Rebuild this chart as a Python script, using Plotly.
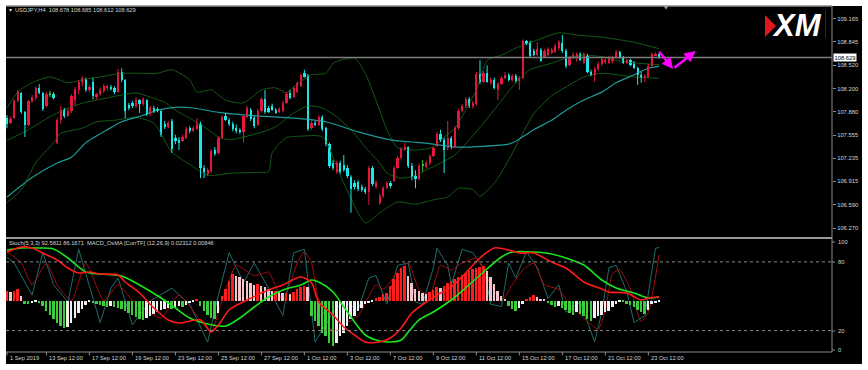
import plotly.graph_objects as go

# ---------------- DATA ----------------
bar_open = [
 107.79,107.72,107.79,108.03,108.14,107.87,107.70,108.03,108.07,108.21,
 108.14,107.96,108.12,108.12,107.45,107.76,107.90,107.82,107.89,108.04,
 108.18,108.29,108.32,108.18,108.29,108.08,108.12,108.17,108.21,108.22,
 108.21,108.15,108.43,108.32,107.97,108.00,107.96,108.04,107.99,108.04,
 107.85,107.93,107.92,107.89,107.71,107.67,107.75,107.52,107.49,107.47,
 107.52,107.65,107.61,107.64,107.71,107.10,107.02,107.06,107.35,107.31,
 107.52,107.82,107.76,107.71,107.65,107.63,107.60,107.81,107.90,107.79,
 107.70,107.89,108.05,107.93,107.96,107.90,107.87,107.89,108.00,108.14,
 108.08,108.15,108.23,108.41,108.37,107.65,107.72,107.70,107.81,107.65,
 107.43,107.17,107.05,107.17,107.14,107.10,106.98,106.89,106.91,106.84,
 106.81,106.77,107.10,106.84,106.62,106.71,106.82,106.89,106.92,107.10,
 107.24,107.35,107.39,107.13,106.99,106.95,107.13,107.11,107.17,107.27,
 107.40,107.57,107.49,107.38,107.52,107.39,107.65,107.89,107.96,108.05,
 107.96,107.99,108.40,108.29,108.41,108.28,108.32,108.18,108.26,108.35,
 108.39,108.32,108.37,108.30,108.35,108.86,108.83,108.72,108.66,108.73,
 108.64,108.66,108.69,108.70,108.76,108.83,108.72,108.52,108.62,108.62,
 108.68,108.55,108.65,108.43,108.39,108.47,108.54,108.57,108.55,108.58,
 108.62,108.70,108.62,108.55,108.59,108.54,108.48,108.39,108.35,108.36,
 108.51,108.66,108.678]
bar_high = [
 107.83,107.81,108.05,108.18,108.15,107.89,108.04,108.11,108.23,108.26,
 108.15,108.15,108.17,108.15,107.79,107.96,107.93,107.92,108.12,108.22,
 108.32,108.37,108.35,108.25,108.35,108.14,108.21,108.26,108.25,108.25,
 108.23,108.47,108.48,108.33,108.00,108.03,108.08,108.05,108.08,108.05,
 107.96,107.96,107.94,107.90,107.75,107.75,107.78,107.56,107.53,107.56,
 107.67,107.68,107.68,107.79,107.74,107.14,107.10,107.36,107.39,107.54,
 107.83,107.86,107.79,107.74,107.70,107.65,107.85,107.96,107.93,107.82,
 107.92,108.08,108.18,107.96,107.99,107.93,107.94,108.03,108.15,108.18,
 108.23,108.30,108.41,108.46,108.40,107.75,107.75,107.83,107.83,107.67,
 107.45,107.21,107.20,107.20,107.28,107.14,107.00,106.93,106.93,106.87,
 106.84,107.13,107.13,106.93,106.75,106.85,106.92,106.92,107.13,107.27,
 107.39,107.45,107.40,107.17,107.07,107.16,107.21,107.20,107.29,107.40,
 107.60,107.63,107.52,107.75,107.54,107.68,107.92,107.99,108.08,108.08,
 108.03,108.43,108.59,108.44,108.52,108.35,108.35,108.29,108.37,108.43,
 108.41,108.40,108.40,108.37,108.88,108.87,108.86,108.75,108.84,108.76,
 108.75,108.77,108.76,108.82,108.87,108.94,108.75,108.65,108.70,108.70,
 108.70,108.70,108.68,108.46,108.50,108.57,108.64,108.62,108.65,108.65,
 108.73,108.72,108.65,108.61,108.61,108.58,108.50,108.43,108.40,108.54,
 108.70,108.70,108.685]
bar_low = [
 107.65,107.71,107.78,108.01,107.85,107.53,107.68,108.00,108.04,108.12,
 107.89,107.94,108.08,108.05,107.43,107.71,107.79,107.81,107.86,107.96,
 108.12,108.23,108.15,108.15,108.05,108.05,108.10,108.14,108.17,108.17,
 108.12,108.14,108.29,107.79,107.90,107.93,107.93,107.86,107.96,107.82,
 107.82,107.86,107.87,107.53,107.64,107.65,107.31,107.43,107.35,107.46,
 107.50,107.58,107.60,107.63,106.96,106.96,106.99,107.03,107.27,107.29,
 107.50,107.75,107.68,107.61,107.58,107.57,107.45,107.79,107.75,107.65,
 107.68,107.87,107.85,107.86,107.89,107.85,107.86,107.87,107.99,108.05,
 108.07,108.14,108.22,108.35,107.61,107.63,107.68,107.68,107.61,107.40,
 107.10,107.07,107.02,107.02,107.05,106.96,106.48,106.80,106.78,106.77,
 106.74,106.59,106.85,106.81,106.59,106.69,106.81,106.82,106.91,107.09,
 107.22,107.34,107.10,106.93,106.82,106.93,107.05,107.09,107.14,107.25,
 107.39,107.46,107.03,107.35,107.36,107.38,107.63,107.87,107.93,107.93,
 107.92,107.96,108.26,108.28,108.28,108.25,108.19,108.04,108.25,108.33,
 108.30,108.30,108.28,108.18,108.33,108.80,108.62,108.65,108.65,108.57,
 108.62,108.65,108.68,108.69,108.73,108.69,108.48,108.51,108.61,108.57,
 108.58,108.54,108.41,108.37,108.29,108.44,108.51,108.54,108.54,108.55,
 108.61,108.61,108.54,108.54,108.51,108.47,108.25,108.28,108.29,108.35,
 108.50,108.65,108.612]
bar_close = [
 107.71,107.78,108.03,108.15,107.87,107.70,108.03,108.08,108.21,108.14,
 107.92,108.12,108.12,108.07,107.76,107.90,107.82,107.89,108.10,108.19,
 108.29,108.35,108.18,108.22,108.10,108.12,108.18,108.23,108.22,108.19,
 108.15,108.43,108.32,107.89,107.93,107.96,108.04,107.99,108.05,107.85,
 107.93,107.89,107.89,107.56,107.67,107.72,107.36,107.47,107.45,107.53,
 107.64,107.61,107.65,107.71,107.10,107.05,107.07,107.34,107.29,107.52,
 107.81,107.76,107.71,107.64,107.61,107.60,107.82,107.93,107.78,107.68,
 107.89,108.05,107.87,107.87,107.90,107.86,107.92,108.00,108.12,108.07,
 108.21,108.28,108.39,108.36,107.64,107.72,107.70,107.81,107.64,107.43,
 107.13,107.10,107.17,107.05,107.07,106.99,106.81,106.84,106.81,106.80,
 106.77,107.10,106.88,106.91,106.71,106.82,106.89,106.85,107.10,107.24,
 107.36,107.39,107.13,106.98,106.95,107.13,107.13,107.17,107.27,107.38,
 107.57,107.49,107.35,107.52,107.39,107.65,107.89,107.96,108.05,107.96,
 108.00,108.40,108.29,108.41,108.29,108.32,108.21,108.26,108.35,108.39,
 108.32,108.37,108.30,108.35,108.86,108.82,108.65,108.66,108.75,108.58,
 108.72,108.75,108.73,108.79,108.84,108.72,108.51,108.62,108.66,108.68,
 108.59,108.68,108.43,108.39,108.47,108.54,108.61,108.59,108.62,108.62,
 108.70,108.62,108.55,108.59,108.52,108.48,108.39,108.35,108.37,108.51,
 108.68,108.678,108.629]

# Bollinger bands (sampled along the curves)
bb_up_idx = [0,3,7,12,17,21,26,32,37,42,46,51,53,57,61,66,71,75,78,80,85,89,91,93,97,100,104,106,109,115,119,122,125,128,131,134,138,142,148,154,159,166,175,182]
bb_up = [107.93,108.15,108.28,108.36,108.28,108.32,108.36,108.41,108.41,108.41,108.46,108.32,108.15,108.18,108.04,108.00,108.18,108.21,108.14,108.22,108.39,108.41,108.55,108.59,108.62,108.41,107.90,107.63,107.38,107.35,107.39,107.53,107.65,107.90,108.18,108.59,108.66,108.76,108.87,108.97,108.94,108.91,108.84,108.75]
bb_mid_idx = [0,6,12,17,22,28,32,36,40,44,47,51,55,59,62,70,75,80,84,88,92,96,100,104,106,110,113,117,121,125,133,142,146,152,156,161,166,170,176,182]
bb_mid = [107.48,107.63,107.81,107.93,108.01,108.07,108.11,108.14,108.08,108.01,107.90,107.79,107.67,107.53,107.49,107.58,107.67,107.86,107.96,107.93,107.81,107.63,107.39,107.17,107.03,106.96,106.98,107.07,107.17,107.28,107.72,108.28,108.46,108.55,108.62,108.66,108.64,108.59,108.55,108.53]
bb_lo_idx = [0,4,8,13,15,21,25,30,36,41,46,51,56,63,70,73,74,78,82,88,94,100,104,109,114,119,123,126,130,132,136,140,143,147,152,156,161,166,175,182]
bb_lo = [106.62,106.80,107.17,107.45,107.58,107.65,107.74,107.76,107.80,107.72,107.32,107.15,107.00,107.03,107.04,107.05,107.31,107.52,107.54,107.53,106.89,106.34,106.48,106.63,106.60,106.66,106.70,106.82,106.80,106.71,106.89,107.21,107.49,107.85,108.10,108.22,108.36,108.41,108.36,108.34]
# slow moving average (teal)
ma_idx = [0,7,14,18,22,28,32,38,42,47,52,59,70,80,89,98,107,113,119,125,133,140,142,147,152,156,161,166,170,175,179,182]
ma_val = [106.70,106.97,107.17,107.25,107.45,107.63,107.74,107.83,107.90,107.94,107.93,107.87,107.82,107.79,107.74,107.60,107.49,107.46,107.43,107.39,107.40,107.43,107.47,107.63,107.76,107.90,108.04,108.15,108.28,108.39,108.48,108.51]

# Stochastic (5,3,3)
stoch_k_idx = [0,2,7,10,13,17,20,26,29,31,35,40,46,51,56,59,62,66,69,73,77,80,83,86,91,94,98,101,103,106,109,112,114,116,119,120,123,124,127,130,133,135,138,140,142,145,148,151,154,156,160,164,166,168,170,173,175,178,181,182]
stoch_k = [84,79,51,88,60,45,91,27,57,66,25,46,57,43,10,51,88,62,79,57,33,88,91,10,36,46,38,66,68,43,77,79,45,43,75,92,77,60,91,88,75,43,41,79,66,89,75,48,60,36,45,10,36,75,77,54,27,33,92,92.58]
stoch_d_idx = [0,4,7,11,14,18,22,27,31,36,43,48,54,57,60,64,69,73,77,81,83,85,87,91,94,98,103,105,109,112,115,118,121,124,127,131,135,138,141,144,147,150,154,157,161,165,167,169,171,174,177,179,182]
stoch_d = [89,79,60,79,60,46,79,46,60,43,31,51,29,19,46,77,68,71,46,79,89,79,46,19,25,33,60,56,71,79,56,51,77,73,79,83,60,46,60,73,79,60,56,43,31,21,38,70,73,56,28,36,86.17]

# MACD_OsMA (12,26,9) - histogram per bar and the two lines (same units)
osma = [10,9,10,12,5, -3,-3,-2,-1,-2, -5,-10,-14,-18,-22,-25,-27, -26,-22,-17,-12,-8,-4, -1,-2,
 -3,-4,-5,-6, -5, -6,-7, -8,-10,-12,-14,-16,-18,-19, -17,-15,-13,-11,-9,-8, -7,-8,-6,-5,-6,-4,
 -2,-1, 1, -5,-10,-14,-17,-18, -12, 5,12,20,27, 25,24,22,20,18, 16,17,15,14, 12,10,10,9,8,
 8,7,9, 12,14,15,14, -15,-20,-25,-32,-35,-42,-45, -42,-35,-32,-25,-18,-15,-10,-7,-3,-2,-1,
 3,4, 7,8,15,22,28,33,35, 25,18,12,10,8,7, 9,11,14,13,15,18,20,22,24,26,28,30,32,33,34,35,
 30,24,17,10,5, 2, -5,-8,-10,-7,-3, 1, 4,6, 4,2,1,
 -2,-4,-6,-5,-7,-9,-12,-14,-11,-13,-15,-18,-20,-17,-15, -14,-11,-10,-6,-3, -1,-1,
 -3,-4,-6,-9,-11,-13, -9,-3,-2,-1]
macd_idx = [0,4,7,10,14,17,20,23,26,31,33,37,41,45,48,54,57,59,62,67,73,77,82,85,87,91,94,97,100,104,107,110,113,117,121,124,128,132,136,140,143,147,152,156,161,166,168,173,177,179,182]
macd_line = [48.5,53.5,52.5,47.5,40.5,32.5,27.5,28.5,26.5,25.5,18.5,7.5,-7.5,-19.5,-22.5,-19.5,-31.5,-24.5,-9.5,0.5,10.5,15.5,23.5,17.5,-1.5,-14.5,-26.5,-34.5,-41.5,-41.5,-37.5,-27.5,-12.5,-1.5,7.5,13.5,27.5,42.5,52.5,50.5,47.5,47.5,38.5,32.5,18.5,11.5,8.5,7.5,0.5,2.5,3.5]
sig_idx = [0,4,9,13,17,22,26,32,37,43,47,51,56,61,65,69,73,77,82,85,87,91,94,97,100,104,107,110,112,115,119,124,128,133,138,141,147,152,156,161,166,170,175,179,182]
sig_line = [50.5,52.5,52.5,51.5,42.5,28.5,26.5,24.5,15.5,2.5,-7.5,-17.5,-23.5,-25.5,-17.5,-6.5,3.5,10.5,15.5,20.5,18.5,8.5,-6.5,-21.5,-34.5,-40.5,-41.5,-39.5,-31.5,-19.5,-11.5,0.5,12.5,28.5,43.5,48.5,48.5,46.5,42.5,35.5,20.5,12.5,7.5,2.5,3.5]

time_tick_idx = [0,11,23,35,47,59,71,83,95,107,119,131,143,155,167,179]
time_tick_text = ["1 Sep 2019","13 Sep 12:00","17 Sep 12:00","19 Sep 12:00","23 Sep 12:00",
                  "25 Sep 12:00","27 Sep 12:00","1 Oct 12:00","3 Oct 12:00","7 Oct 12:00",
                  "9 Oct 12:00","11 Oct 12:00","15 Oct 12:00","17 Oct 12:00","21 Oct 12:00","23 Oct 12:00"]
price_ticks = [109.165,108.845,108.520,108.200,107.880,107.555,107.235,106.915,106.590,106.270]
stoch_levels = [100, 80, 20, 0]

header_main = "USDJPY,H4  108.678 108.685 108.612 108.629"
header_sub = "Stoch(5,3,3) 92.5811 86.1671  MACD_OsMA [CurrTF] (12,26,9) 0.02312 0.00846"

# ---------------- FIGURE ----------------
FONT = "Liberation Sans, Arial, sans-serif"
TXT = "#d4d4d4"
GRAY = "#8a8a8a"
UP, DOWN, DOJI = "#e5173f", "#1ee6e6", "#2ecc2e"

N = len(bar_close)
xi = list(range(N))

body_base, body_len, body_col = [], [], []
wick = {UP: ([], []), DOWN: ([], []), DOJI: ([], [])}
for i in range(N):
    o, c = bar_open[i], bar_close[i]
    col = UP if c > o else (DOWN if c < o else DOJI)
    body_base.append(min(o, c))
    body_len.append(max(abs(c - o), 0.012))
    body_col.append(col)
    wick[col][0].extend([i, i, None])
    wick[col][1].extend([bar_low[i], bar_high[i], None])

fig = go.Figure()

for ix, vals in ((bb_up_idx, bb_up), (bb_mid_idx, bb_mid), (bb_lo_idx, bb_lo)):
    fig.add_trace(go.Scatter(x=ix, y=vals, mode="lines", line=dict(color="#145a14", width=1, shape="spline", smoothing=0.6),
                             xaxis="x", yaxis="y", hoverinfo="skip"))
fig.add_trace(go.Scatter(x=ma_idx, y=ma_val, mode="lines", line=dict(color="#1f9898", width=1.2, shape="spline", smoothing=0.6),
                         xaxis="x", yaxis="y", hoverinfo="skip"))

for col, (wx, wy) in wick.items():
    fig.add_trace(go.Scatter(x=wx, y=wy, mode="lines", line=dict(color=col, width=1), xaxis="x", yaxis="y", hoverinfo="skip"))
fig.add_trace(go.Bar(x=xi, y=body_len, base=body_base, width=0.62, marker=dict(color=body_col, line=dict(width=0)),
                     xaxis="x", yaxis="y"))

osma_col = []
for i, v in enumerate(osma):
    prev = osma[i - 1] if i else v
    if v >= 0:
        osma_col.append("#ff1c1c" if v >= prev else "#f4c6cc")
    else:
        osma_col.append("#3ccc3c" if v <= prev else "#f0f0f0")
fig.add_trace(go.Bar(x=xi, y=osma, width=0.55, marker=dict(color=osma_col, line=dict(width=0)), xaxis="x2", yaxis="y3"))

fig.add_trace(go.Scatter(x=stoch_k_idx, y=stoch_k, mode="lines", line=dict(color="#216c6c", width=1), xaxis="x2", yaxis="y2", hoverinfo="skip"))
fig.add_trace(go.Scatter(x=stoch_d_idx, y=stoch_d, mode="lines", line=dict(color="#a30d0d", width=1, shape="spline", smoothing=0.5), xaxis="x2", yaxis="y2", hoverinfo="skip"))
fig.add_trace(go.Scatter(x=sig_idx, y=sig_line, mode="lines", line=dict(color="#19e619", width=1.6, shape="spline", smoothing=0.8), xaxis="x2", yaxis="y3", hoverinfo="skip"))
fig.add_trace(go.Scatter(x=macd_idx, y=macd_line, mode="lines", line=dict(color="#ff1a1a", width=1.6, shape="spline", smoothing=0.8), xaxis="x2", yaxis="y3", hoverinfo="skip"))

XR = [-0.28, 230.25]
fig.update_layout(
    width=868, height=370,
    margin=dict(l=6, r=36, t=6, b=18),
    paper_bgcolor="white", plot_bgcolor="black",
    showlegend=False, barmode="overlay", bargap=0,
    xaxis=dict(domain=[0, 1], range=XR, anchor="y", showgrid=False, zeroline=False, showticklabels=False, ticks=""),
    xaxis2=dict(domain=[0, 1], range=XR, anchor="y2", showgrid=False, zeroline=False, showticklabels=False, ticks=""),
    yaxis=dict(domain=[0.3324, 1], range=[106.146, 109.341], side="right", anchor="x",
               tickvals=price_ticks, ticktext=[f"{v:.3f}" for v in price_ticks],
               ticks="outside", ticklen=3, tickcolor=GRAY, tickwidth=1,
               tickfont=dict(size=5.8, color=TXT, family=FONT), showgrid=False, zeroline=False),
    yaxis2=dict(domain=[0, 0.3266], range=[1.3, 100], side="right", anchor="x2",
                showticklabels=False, ticks="", showgrid=False, zeroline=False),
    yaxis3=dict(overlaying="y2", range=[-51.5, 61.5], visible=False, anchor="x2"),
)

def px2paper_x(px):
    return (px - 6) / 826.0

def py2paper_y(py):
    return (352 - py) / 346.0

shapes = []
shapes.append(dict(type="rect", xref="paper", yref="paper", x0=0, x1=px2paper_x(862), y0=py2paper_y(364), y1=1,
                   fillcolor="black", line=dict(width=0), layer="below"))
shapes.append(dict(type="line", xref="paper", yref="paper", x0=0, x1=1, y0=1, y1=1, line=dict(color=GRAY, width=1.5)))
shapes.append(dict(type="line", xref="paper", yref="paper", x0=0, x1=1, y0=py2paper_y(238), y1=py2paper_y(238), line=dict(color="#9a9a9a", width=2)))
shapes.append(dict(type="line", xref="paper", yref="paper", x0=0, x1=1, y0=0, y1=0, line=dict(color=GRAY, width=1)))
shapes.append(dict(type="line", xref="paper", yref="paper", x0=1, x1=1, y0=0, y1=1, line=dict(color=GRAY, width=1)))
shapes.append(dict(type="line", xref="paper", yref="y", x0=0, x1=1, y0=bar_close[-1], y1=bar_close[-1], line=dict(color="#7c7c7c", width=1.5)))
for lv in (80, 20):
    shapes.append(dict(type="line", xref="paper", yref="y2", x0=0, x1=1, y0=lv, y1=lv, line=dict(color="#8a8a8a", width=1, dash="dot")))
for t in time_tick_idx:
    shapes.append(dict(type="line", xref="x2", yref="paper", x0=t, x1=t, y0=0, y1=-0.010, line=dict(color=GRAY, width=1)))
for lv, py in zip(stoch_levels, (242, 262, 331, 350)):
    shapes.append(dict(type="line", xref="paper", yref="paper", x0=1, x1=px2paper_x(835), y0=py2paper_y(py), y1=py2paper_y(py), line=dict(color=GRAY, width=1)))
shapes.append(dict(type="path", xref="paper", yref="paper",
                   path=f"M {px2paper_x(663.5)} {py2paper_y(6)} L {px2paper_x(668.5)} {py2paper_y(6)} L {px2paper_x(666)} {py2paper_y(9.5)} Z",
                   fillcolor="#9a9a9a", line=dict(width=0)))
shapes.append(dict(type="path", xref="paper", yref="paper",
                   path=f"M {px2paper_x(765)} {py2paper_y(15)} L {px2paper_x(776)} {py2paper_y(26)} L {px2paper_x(765)} {py2paper_y(37)} Z",
                   fillcolor="#e0161e", line=dict(width=0)))
shapes.append(dict(type="line", xref="paper", yref="paper", x0=px2paper_x(825.5), x1=px2paper_x(825.5), y0=py2paper_y(10), y1=py2paper_y(38),
                   line=dict(color="#7a0a0a", width=1)))
fig.update_layout(shapes=shapes)

ann = []
for t, s in zip(time_tick_idx, time_tick_text):
    ann.append(dict(x=t, y=py2paper_y(358.5), xref="x2", yref="paper", text=s, showarrow=False, xanchor="left", yanchor="middle",
                    xshift=1, font=dict(size=5.7, color=TXT, family=FONT)))
for lv, py in zip(stoch_levels, (242, 262, 331, 350)):
    ann.append(dict(x=1, y=py2paper_y(py), xref="paper", yref="paper", text=str(lv), showarrow=False, xanchor="left", yanchor="middle",
                    xshift=4, font=dict(size=5.8, color=TXT, family=FONT)))
ann.append(dict(x=1, y=bar_close[-1], xref="paper", yref="y", text=f"{bar_close[-1]:.3f}", showarrow=False, xanchor="left",
                yanchor="middle", xshift=1, bgcolor="white", borderpad=0.5, font=dict(size=5.8, color="black", family=FONT)))
ann.append(dict(x=px2paper_x(12.5), y=py2paper_y(10.5), xref="paper", yref="paper", text=header_main, showarrow=False,
                xanchor="left", yanchor="middle", font=dict(size=5.7, color=TXT, family=FONT)))
ann.append(dict(x=px2paper_x(6.5), y=py2paper_y(10.5), xref="paper", yref="paper", text="▾", showarrow=False,
                xanchor="left", yanchor="middle", font=dict(size=6, color=TXT, family=FONT)))
ann.append(dict(x=px2paper_x(6.5), y=py2paper_y(243), xref="paper", yref="paper", text=header_sub, showarrow=False,
                xanchor="left", yanchor="middle", font=dict(size=5.7, color=TXT, family=FONT)))
ann.append(dict(x=px2paper_x(797), y=py2paper_y(26), xref="paper", yref="paper", text="<b><i>XM</i></b>", showarrow=False,
                xanchor="center", yanchor="middle", font=dict(size=31, color="white", family=FONT)))
ann.append(dict(x=185.9, y=108.47, ax=181.7, ay=108.73, xref="x", yref="y", axref="x", ayref="y", text="", showarrow=True,
                arrowhead=2, arrowsize=0.9, arrowwidth=2.5, arrowcolor="#ff00ff"))
ann.append(dict(x=192.2, y=108.72, ax=185.9, ay=108.47, xref="x", yref="y", axref="x", ayref="y", text="", showarrow=True,
                arrowhead=2, arrowsize=0.9, arrowwidth=2.5, arrowcolor="#ff00ff"))
fig.update_layout(annotations=ann)

fig.write_html("out.html", config={"displayModeBar": False},
               post_script="document.body.style.margin='0px';")
